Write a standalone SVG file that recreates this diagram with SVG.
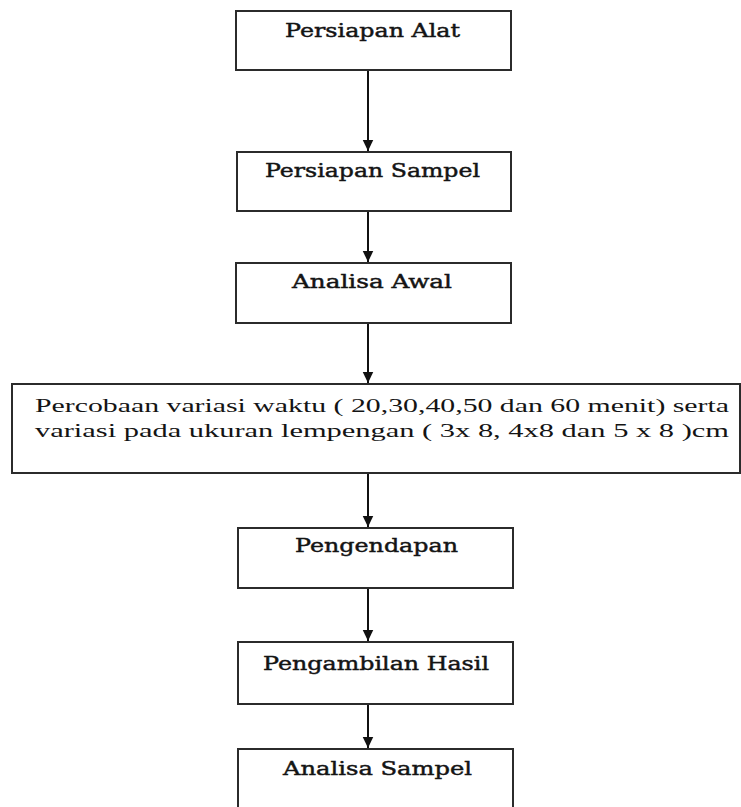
<svg xmlns="http://www.w3.org/2000/svg" width="741" height="807" viewBox="0 0 741 807">
  <style>
    .box { fill: #ffffff; stroke: #2b2b2b; stroke-width: 2; }
    .lbl { font-family: "DejaVu Serif", "Liberation Serif", serif; font-size: 19px; fill: #141414; stroke: #141414; stroke-width: 0.45; }
    .lbl4 { font-family: "Liberation Serif", "Times New Roman", serif; font-size: 19px; fill: #141414; }
    .conn { stroke: #111111; stroke-width: 2; fill: none; marker-end: url(#arrow); }
  </style>
  <defs>
    <marker id="arrow" markerUnits="userSpaceOnUse" markerWidth="12" markerHeight="12" viewBox="0 0 12 12" refX="11.5" refY="6" orient="auto">
      <path d="M0,0.5 L11.5,6 L0,11.5 Z" fill="#111111"/>
    </marker>
  </defs>
  <rect width="741" height="807" fill="#ffffff"/>

  <g id="connectors">
    <line class="conn" x1="368" y1="71" x2="368" y2="151"/>
    <line class="conn" x1="368" y1="212" x2="368" y2="262"/>
    <line class="conn" x1="368" y1="324" x2="368" y2="383"/>
    <line class="conn" x1="368" y1="474" x2="368" y2="527"/>
    <line class="conn" x1="368" y1="589" x2="368" y2="641"/>
    <line class="conn" x1="368" y1="705" x2="368" y2="748"/>
  </g>

  <g id="node-persiapan-alat">
    <rect class="box" x="236" y="11" width="275" height="59"/>
    <text class="lbl" x="285" y="37" textLength="175" lengthAdjust="spacingAndGlyphs">Persiapan Alat</text>
  </g>

  <g id="node-persiapan-sampel">
    <rect class="box" x="237" y="152" width="274" height="59"/>
    <text class="lbl" x="265" y="177" textLength="215" lengthAdjust="spacingAndGlyphs">Persiapan Sampel</text>
  </g>

  <g id="node-analisa-awal">
    <rect class="box" x="236" y="263" width="275" height="60"/>
    <text class="lbl" x="292" y="288" textLength="160" lengthAdjust="spacingAndGlyphs">Analisa Awal</text>
  </g>

  <g id="node-percobaan">
    <rect class="box" x="12" y="384" width="728" height="89"/>
    <text class="lbl4" x="35" y="412" textLength="694" lengthAdjust="spacingAndGlyphs">Percobaan variasi waktu ( 20,30,40,50 dan 60 menit) serta</text>
    <text class="lbl4" x="35" y="437" textLength="694" lengthAdjust="spacingAndGlyphs">variasi pada ukuran lempengan ( 3x 8, 4x8 dan 5 x 8 )cm</text>
  </g>

  <g id="node-pengendapan">
    <rect class="box" x="238" y="528" width="275" height="60"/>
    <text class="lbl" x="295" y="552" textLength="163" lengthAdjust="spacingAndGlyphs">Pengendapan</text>
  </g>

  <g id="node-pengambilan-hasil">
    <rect class="box" x="238" y="642" width="275" height="62"/>
    <text class="lbl" x="263" y="670" textLength="226" lengthAdjust="spacingAndGlyphs">Pengambilan Hasil</text>
  </g>

  <g id="node-analisa-sampel">
    <rect class="box" x="238" y="749" width="275" height="70"/>
    <text class="lbl" x="283" y="775" textLength="189" lengthAdjust="spacingAndGlyphs">Analisa Sampel</text>
  </g>
</svg>
